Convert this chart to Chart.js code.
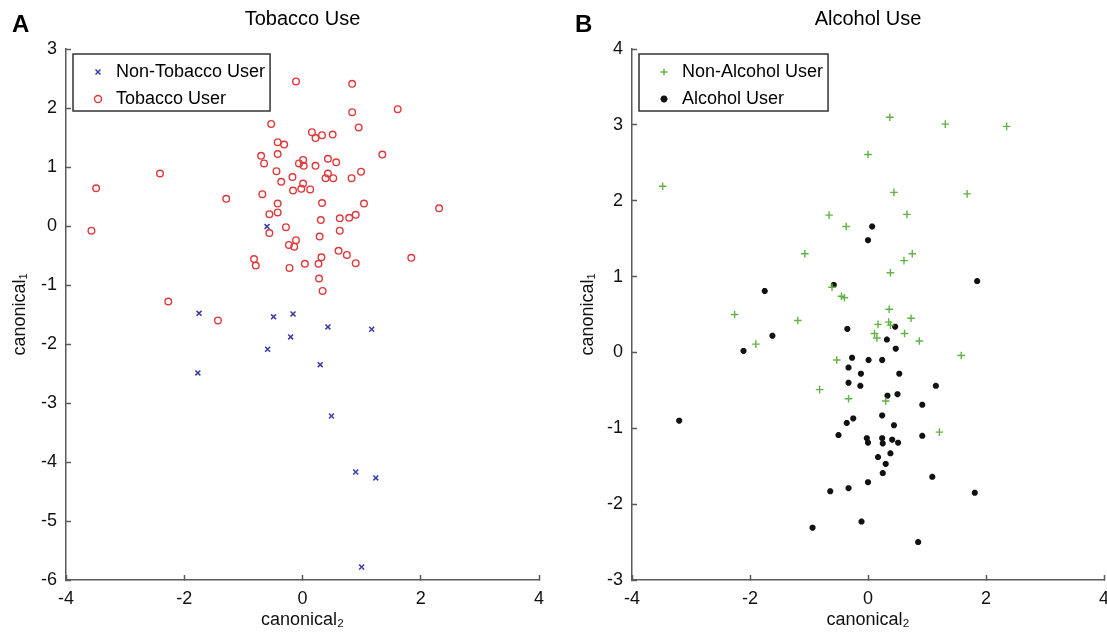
<!DOCTYPE html>
<html><head><meta charset="utf-8">
<script src="https://cdn.jsdelivr.net/npm/chart.js@4/dist/chart.umd.min.js"></script>
<style>
html,body{margin:0;padding:0;background:#fff;overflow:hidden;width:1107px;height:634px;position:relative;}
#c1{position:absolute;left:0;top:0;}
#c2{position:absolute;left:566px;top:0;}
.pl{position:absolute;font:bold 24px "Liberation Sans",Arial,sans-serif;line-height:24px;color:#000;z-index:2;}
</style></head><body>
<div class="pl" style="left:12px;top:12px">A</div>
<div class="pl" style="left:575px;top:12px">B</div>
<canvas id="c1" width="560" height="634"></canvas>
<canvas id="c2" width="560" height="634"></canvas>
<script>
// ---------- Panel A: Tobacco Use ----------
const titleA = 'Tobacco Use';
const tobaccoX = [-0.11,0.84,1.61,0.84,0.95,-0.53,0.16,0.33,0.51,0.22,-0.42,-0.31,-0.70,-0.42,1.35,-0.65,0.01,-0.06,0.02,0.22,0.43,0.57,-0.44,0.99,0.43,-0.17,0.39,0.52,0.83,-0.36,0.01,-0.16,-0.02,0.13,-2.41,-3.49,-0.68,-1.29,-0.42,0.33,1.04,2.31,-0.56,-0.42,0.90,0.79,0.63,0.31,-3.57,-0.28,-0.56,0.63,0.29,-0.11,-0.23,-0.14,0.61,0.75,-0.82,0.32,1.84,-0.79,-0.22,0.04,0.27,0.90,0.28,0.34,-2.27,-1.43];
const tobaccoY = [2.45,2.41,1.98,1.93,1.67,1.73,1.59,1.54,1.55,1.49,1.42,1.38,1.19,1.22,1.21,1.06,1.12,1.06,1.02,1.02,1.14,1.08,0.93,0.92,0.89,0.83,0.81,0.81,0.81,0.75,0.72,0.60,0.63,0.62,0.89,0.64,0.54,0.46,0.38,0.39,0.38,0.30,0.20,0.23,0.19,0.14,0.13,0.10,-0.08,-0.02,-0.12,-0.08,-0.18,-0.24,-0.32,-0.35,-0.42,-0.49,-0.56,-0.53,-0.54,-0.67,-0.71,-0.64,-0.64,-0.63,-0.89,-1.10,-1.28,-1.60];
const nonTobaccoX = [-0.60,-1.75,-0.49,-0.16,0.43,1.17,-0.20,-0.59,-1.77,0.30,0.49,0.90,1.24,1.00];
const nonTobaccoY = [-0.01,-1.48,-1.54,-1.49,-1.71,-1.75,-1.88,-2.09,-2.49,-2.35,-3.22,-4.17,-4.27,-5.78];
const yRangeA = [-6, 3];

// ---------- Panel B: Alcohol Use ----------
const titleB = 'Alcohol Use';
const nonAlcoholX = [0.37,1.31,2.35,0.00,-3.48,0.44,1.68,-0.66,0.66,-0.37,-1.07,0.75,0.61,0.38,-0.61,-0.45,-0.40,-2.26,-1.19,0.36,0.73,0.17,0.35,0.38,-1.90,0.11,0.15,0.62,0.87,1.58,-0.53,-0.82,-0.33,0.30,1.21];
const nonAlcoholY = [3.10,3.01,2.98,2.61,2.19,2.11,2.09,1.81,1.82,1.66,1.30,1.30,1.21,1.05,0.86,0.74,0.72,0.50,0.42,0.57,0.45,0.37,0.40,0.36,0.11,0.25,0.19,0.25,0.15,-0.04,-0.10,-0.49,-0.61,-0.64,-1.05];
const alcoholX = [0.07,0.00,-0.58,-1.75,1.85,-0.35,0.46,-1.62,0.32,-2.11,0.47,-0.27,0.01,0.24,-0.33,-0.12,0.53,-0.33,-0.13,1.15,0.33,0.50,-3.20,0.92,0.24,-0.25,-0.36,0.44,-0.50,0.92,-0.02,0.00,0.24,0.25,0.41,0.51,0.17,0.38,0.30,0.25,1.09,0.00,-0.64,-0.33,1.81,-0.11,-0.94,0.85];
const alcoholY = [1.66,1.48,0.89,0.81,0.94,0.31,0.34,0.22,0.17,0.02,0.05,-0.07,-0.10,-0.10,-0.20,-0.28,-0.28,-0.40,-0.44,-0.44,-0.57,-0.55,-0.90,-0.69,-0.83,-0.87,-0.93,-0.96,-1.09,-1.10,-1.13,-1.19,-1.13,-1.20,-1.15,-1.19,-1.38,-1.33,-1.47,-1.59,-1.64,-1.71,-1.83,-1.79,-1.85,-2.23,-2.31,-2.50];
const yRangeB = [-3, 4];

const xRange = [-4, 4];
const xLabel = 'canonical\u2082';
const yLabel = 'canonical\u2081';

const FONT = '"Liberation Sans", Arial, Helvetica, sans-serif';
const AXIS = '#5a5a5a';
const TXT = '#111';

function pts(xs, ys) { return xs.map((x, i) => ({x: x, y: ys[i]})); }

function ds(label, xs, ys, style, color, radius, width) {
  return {
    label: label,
    data: pts(xs, ys),
    showLine: false,
    pointStyle: style,
    pointRadius: radius,
    pointHoverRadius: radius,
    pointBorderWidth: width,
    borderWidth: width,
    pointBorderColor: color,
    borderColor: color,
    pointBackgroundColor: 'rgba(0,0,0,0)',
    backgroundColor: 'rgba(0,0,0,0)'
  };
}

const legendBox = {
  id: 'legendBox',
  afterUpdate(chart) {
    const lg = chart.legend; if (!lg) return;
    const ca = chart.chartArea;
    const w = lg.width, h = lg.height;
    lg.left = ca.left + 14; lg.top = ca.top + 5;
    lg.right = lg.left + w; lg.bottom = lg.top + h;
  },
  afterDraw(chart) {
    const lg = chart.legend; const ca = chart.chartArea;
    const ctx = chart.ctx;
    ctx.save();
    ctx.font = '18px ' + FONT;
    let maxW = 0;
    chart.data.datasets.forEach(d => { maxW = Math.max(maxW, ctx.measureText(d.label).width); });
    const left = ca.left + 7, top = ca.top + 5;
    const right = lg.left + 36 + maxW + 5;
    ctx.strokeStyle = '#333'; ctx.lineWidth = 1.5;
    ctx.strokeRect(left, top, right - left, 57);
    ctx.restore();
  }
};

function makeChart(id, title, datasets, yRange, yWidth, yTitlePad, rightPad) {
  return new Chart(document.getElementById(id), {
    type: 'scatter',
    data: { datasets: datasets },
    options: {
      responsive: false,
      animation: false,
      events: [],
      layout: { padding: { left: 0, top: 0, right: rightPad, bottom: 0 } },
      plugins: {
        title: { display: true, text: title, color: '#000', fullSize: false,
                 font: { family: FONT, size: 20, weight: 'normal' }, padding: { top: 7, bottom: 18 } },
        legend: { display: true, position: 'chartArea', align: 'start',
                  labels: { usePointStyle: true, boxHeight: 5, padding: 9, color: '#000',
                            font: { family: FONT, size: 18 } } },
        tooltip: { enabled: false }
      },
      scales: {
        x: {
          type: 'linear', min: xRange[0], max: xRange[1],
          ticks: { stepSize: 2, color: TXT, padding: 13, font: { family: FONT, size: 18 } },
          grid: { display: true, drawOnChartArea: false, drawTicks: true, tickLength: -5, tickWidth: 1.5, tickColor: AXIS, color: AXIS },
          border: { display: true, color: AXIS, width: 1.5 },
          title: { display: true, text: xLabel, color: TXT, font: { family: FONT, size: 18 }, padding: { top: 0, bottom: 3 } },
          afterFit(s) { s.height = 54; }
        },
        y: {
          type: 'linear', min: yRange[0], max: yRange[1],
          ticks: { stepSize: 1, color: TXT, padding: 14, font: { family: FONT, size: 18 } },
          grid: { display: true, drawOnChartArea: false, drawTicks: true, tickLength: -5, tickWidth: 1.5, tickColor: AXIS, color: AXIS },
          border: { display: true, color: AXIS, width: 1.5 },
          title: { display: true, text: yLabel, color: TXT, font: { family: FONT, size: 18 }, padding: { top: yTitlePad, bottom: 0 } },
          afterFit(s) { s.width = yWidth; }
        }
      }
    },
    plugins: [legendBox]
  });
}

makeChart('c1', titleA, [
  ds('Non-Tobacco User', nonTobaccoX, nonTobaccoY, 'crossRot', '#3a3aa8', 3.5, 1.5),
  ds('Tobacco User', tobaccoX, tobaccoY, 'circle', '#e0383a', 3.3, 1.4)
], yRangeA, 66, 9, 21);

makeChart('c2', titleB, [
  ds('Non-Alcohol User', nonAlcoholX, nonAlcoholY, 'cross', '#62b245', 3.8, 1.4),
  ds('Alcohol User', alcoholX, alcoholY, 'star', '#111111', 3, 2.2)
], yRangeB, 66, 11, 22);
</script>
</body></html>
